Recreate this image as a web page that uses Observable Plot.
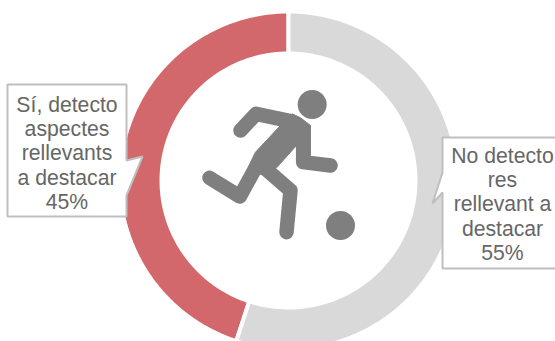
<!DOCTYPE html>
<html><head><meta charset="utf-8">
<script src="https://cdn.jsdelivr.net/npm/d3@7"></script>
<script src="https://cdn.jsdelivr.net/npm/@observablehq/plot@0.6"></script>
<style>html,body{margin:0;padding:0;background:#fff;overflow:hidden}svg{display:block}</style>
</head><body><div id="chart"></div>
<script>
const categories = ["Sí, detecto\naspectes\nrellevants\na destacar", "No detecto\nres\nrellevant a\ndestacar"];
const shares = [45, 55];
const colors = ["#d2686b", "#d9d9d9"];

// Ring geometry (in the chart's page-sized x/y scales)
const cx = 288, cy = 180, R = 169, r = 127;
const arcs = shares.map((v, i) => {
  // the second share runs clockwise from the top, the first closes the circle
  const s = shares[1] / d3.sum(shares) * 2 * Math.PI;
  const [a0, a1] = i === 0 ? [s, 2 * Math.PI] : [0, s];
  const pts = [];
  const n = 90;
  for (let k = 0; k <= n; k++) { const t = a0 + (a1 - a0) * k / n; pts.push({x: cx + R * Math.sin(t), y: cy - R * Math.cos(t)}); }
  for (let k = n; k >= 0; k--) { const t = a0 + (a1 - a0) * k / n; pts.push({x: cx + r * Math.sin(t), y: cy - r * Math.cos(t)}); }
  return {pts, color: colors[i]};
});

// Callouts
const leftBox = [[7,84],[126,84],[126,160],[142,156],[126,195],[126,216],[7,216]].map(([x,y]) => ({x,y}));
const rightBox = [[442,137],[562,137],[562,268],[442,268],[442,192],[432,203],[442,172]].map(([x,y]) => ({x,y}));
const labels = [
  {x: 66.5, y: 152, text: `${categories[0]}\n${shares[0]}%`},
  {x: 502, y: 203, text: `${categories[1]}\n${shares[1]}%`}
];

// Player pictogram
const ic = ([a, b]) => ({x: 190 + a / 3, y: 80 + b / 3});
const torso = [[195,215],[265,140],[305,100],[330,112],[360,135],[360,225],[318,195],[258,262],[210,282],[175,260]].map(ic);
const limbs = [
  [[150,150],[197,100],[300,122]],
  [[338,170],[338,245],[420,255]],
  [[210,235],[148,348],[57,292]],
  [[225,265],[300,330],[288,455]]
].map(l => l.map(ic));
const balls = [ic([365,72]), ic([450,435])];
const ink = "#7f7f7f";

const xy = {x: "x", y: "y"};
const plot = Plot.plot({
  width: 555, height: 341,
  margin: 0,
  x: {domain: [0, 555], range: [0, 555], axis: null},
  y: {domain: [0, 341], range: [0, 341], axis: null},
  style: {background: "#fff"},
  marks: [
    ...arcs.map(a => Plot.line(a.pts, {...xy, curve: "linear-closed", fill: a.color, stroke: "#fff", strokeWidth: 4, strokeLinejoin: "miter"})),
    Plot.line(torso, {...xy, curve: "linear-closed", fill: ink, stroke: ink, strokeWidth: 1, strokeLinejoin: "round"}),
    ...limbs.map(l => Plot.line(l, {...xy, stroke: ink, strokeWidth: 14.5, strokeLinecap: "round", strokeLinejoin: "round"})),
    Plot.dot(balls, {...xy, r: 14.5, fill: ink, stroke: "none"}),
    Plot.line(leftBox, {...xy, curve: "linear-closed", fill: "#fff", stroke: "#bfbfbf", strokeWidth: 2, strokeLinejoin: "miter"}),
    Plot.line(rightBox, {...xy, curve: "linear-closed", fill: "#fff", stroke: "#bfbfbf", strokeWidth: 2, strokeLinejoin: "miter"}),
    Plot.text(labels, {...xy, text: "text", fontSize: 21.2, lineHeight: 1.145, fontFamily: "Liberation Sans", fill: "#666", textAnchor: "middle", lineAnchor: "middle"})
  ]
});
document.getElementById("chart").appendChild(plot);
</script></body></html>
